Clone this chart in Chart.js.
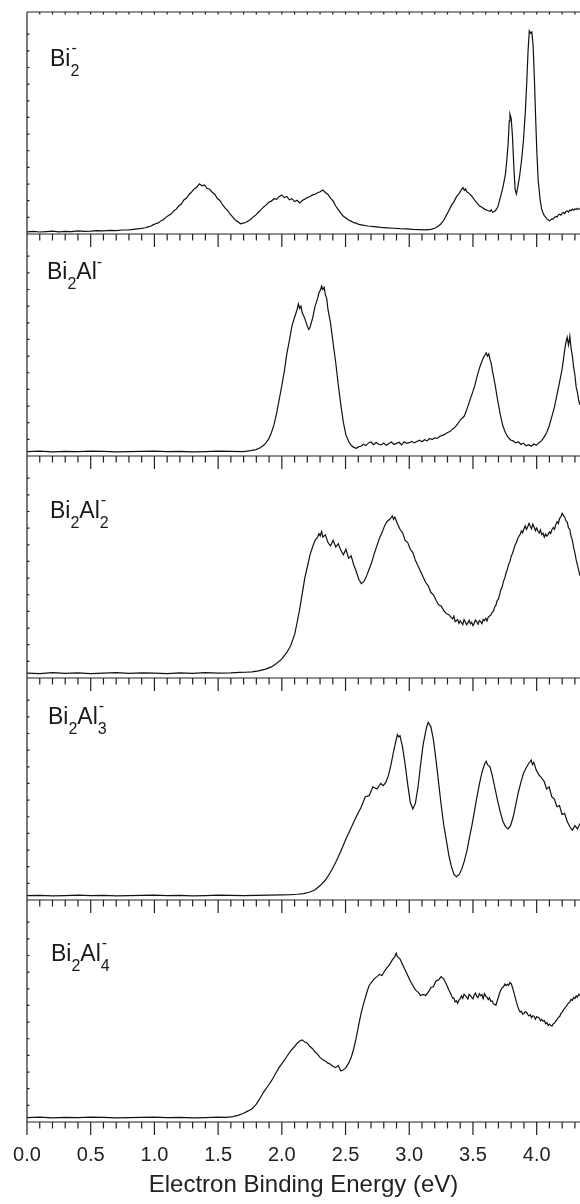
<!DOCTYPE html>
<html>
<head>
<meta charset="utf-8">
<script src="https://cdn.jsdelivr.net/npm/chart.js@4.4.0/dist/chart.umd.min.js"></script>
<style>
  html, body { margin:0; padding:0; background:#fff; }
  #wrap { position:relative; width:580px; height:1204px; }
  .lab { position:absolute; font-family:'Liberation Sans', Arial, sans-serif; font-size:23px; line-height:1; color:#1a1a1a; white-space:nowrap; }
  .lo { position:relative; top:10px; font-size:16px; }
  .hi { position:relative; top:-12px; font-size:16px; }
  .st { display:inline-block; position:relative; width:9px; height:1px; }
  .st .u { position:absolute; left:1px; bottom:10px; font-size:16px; line-height:1; }
  .st .d { position:absolute; left:0; bottom:-13px; font-size:16px; line-height:1; }
</style>
</head>
<body>
<div id="wrap">
  <canvas id="spectra" width="580" height="1204"></canvas>
  <div class="lab" style="left:50px;top:47px">Bi<span class="st"><span class="u">-</span><span class="d">2</span></span></div>
  <div class="lab" style="left:47px;top:260px">Bi<span class="lo">2</span>Al<span class="hi">-</span></div>
  <div class="lab" style="left:50px;top:499px">Bi<span class="lo">2</span>Al<span class="st"><span class="u">-</span><span class="d">2</span></span></div>
  <div class="lab" style="left:48px;top:705px">Bi<span class="lo">2</span>Al<span class="st"><span class="u">-</span><span class="d">3</span></span></div>
  <div class="lab" style="left:51px;top:942px">Bi<span class="lo">2</span>Al<span class="st"><span class="u">-</span><span class="d">4</span></span></div>
</div>
<script>
// photoelectron spectra, intensity in arb. units (0-100 per panel)
const eBi2 = [
  0.00,0.05,0.10,0.15,0.20,0.25,0.30,0.35,0.40,0.45,0.50,0.55,0.60,0.65,0.70,0.75,0.80,0.85,0.90,
  0.929,0.949,0.969,0.989,1.009,1.030,1.050,1.070,1.090,1.110,1.131,1.151,1.171,1.191,1.211,1.231,1.252,1.272,1.292,1.312,
  1.332,1.353,1.373,1.393,1.413,1.433,1.454,1.474,1.494,1.514,1.534,1.554,1.575,1.595,1.615,1.635,1.655,1.676,1.696,1.716,
  1.736,1.756,1.777,1.797,1.817,1.837,1.857,1.877,1.898,1.918,1.938,1.958,1.978,1.999,2.019,2.039,2.059,2.079,2.100,2.120,
  2.140,2.160,2.180,2.200,2.221,2.241,2.261,2.281,2.301,2.322,2.342,2.362,2.382,2.402,2.423,2.443,2.463,2.483,2.503,2.524,
  2.544,2.564,2.584,2.604,2.624,
  2.675,2.725,2.776,2.826,2.877,2.927,2.978,3.028,3.079,3.129,3.170,3.200,
  3.230,3.250,3.270,3.291,3.311,3.331,3.351,3.371,3.392,3.412,
  3.422,3.432,3.442,3.452,3.472,3.493,3.513,3.533,3.553,3.573,3.593,3.614,3.634,3.644,3.654,3.674,3.694,3.715,3.735,3.755,3.765,3.775,3.785,
  3.790,3.800,3.810,3.821,3.831,3.841,3.851,3.866,3.881,3.896,3.911,3.922,3.932,3.942,3.952,3.962,3.972,3.982,3.992,4.002,4.012,4.028,
  4.04,4.05,4.06,4.07,4.08,4.09,4.10,4.11,4.12,4.13,
  4.14,4.15,4.16,4.17,4.18,4.19,4.20,4.21,4.22,4.23,
  4.24,4.25,4.26,4.27,4.28,4.29,4.30,4.31,4.32,4.33,4.34];
const iBi2 = [
  1.0,1.2,0.9,1.1,1.3,1.0,1.2,1.1,1.4,1.2,1.3,1.5,1.4,1.6,1.5,1.8,1.9,2.2,2.5,
  2.8,3.2,3.5,4.1,4.6,5.0,5.9,6.4,7.5,8.3,9.0,10.4,11.2,12.6,13.5,15.3,16.2,17.8,18.9,20.3,
  21.0,22.6,21.7,22.1,20.6,20.2,18.8,17.9,16.0,15.1,13.2,11.8,10.5,8.9,7.6,6.3,5.5,4.6,4.9,5.2,
  5.9,6.6,7.8,8.6,9.9,11.0,12.2,13.1,14.3,14.8,15.9,15.6,16.8,17.6,16.4,16.9,15.4,15.9,14.6,15.2,
  14.0,15.1,15.7,16.4,16.9,17.6,17.9,18.6,19.0,19.8,18.7,17.8,16.2,14.9,12.6,11.0,9.4,8.0,7.2,6.3,
  5.8,5.1,4.9,4.3,4.1,
  3.6,3.3,3.0,2.8,2.6,2.4,2.3,2.1,2.0,1.9,2.1,2.6,
  3.6,4.6,6.2,8.4,10.6,12.9,14.6,16.8,18.3,20.2,
  20.9,19.6,20.3,19.0,18.2,16.9,15.2,13.9,12.6,11.9,11.1,10.6,10.2,10.9,9.8,10.4,12.0,16.5,21.0,27.0,33.0,40.0,51.0,
  54.0,52.0,44.0,30.0,20.0,18.0,21.0,26.0,33.0,42.0,55.0,68.0,82.0,91.5,90.5,91.0,85.0,70.0,52.0,36.0,24.0,15.0,
  11.0,9.4,8.3,7.6,6.8,6.4,6.0,6.3,6.9,6.7,
  7.5,7.9,7.7,8.6,8.9,8.5,9.4,9.7,9.2,10.1,
  10.4,9.9,10.8,10.5,11.2,10.7,11.3,11.0,11.6,11.1,11.4];

const eBi2Al = [
  0.0,0.1,0.2,0.3,0.4,0.5,0.6,0.7,0.8,0.9,1.0,1.1,1.2,1.3,1.4,1.5,1.6,1.7,
  1.756,1.797,1.827,1.857,1.877,1.898,1.918,1.938,1.958,1.978,
  1.999,2.019,2.039,2.059,2.079,2.100,2.120,2.130,2.140,2.150,
  2.160,2.180,2.200,2.211,2.221,2.241,2.261,2.281,2.291,2.301,
  2.312,2.322,2.332,2.342,2.352,2.362,2.382,2.402,2.423,2.443,
  2.463,2.483,2.503,2.524,2.544,2.564,2.584,2.604,
  2.62,2.64,2.66,2.68,2.70,2.72,2.74,2.76,2.78,2.80,
  2.82,2.84,2.86,2.88,2.90,2.92,2.94,2.96,2.98,3.00,
  3.02,3.04,3.06,3.08,3.10,3.12,3.14,3.16,3.18,3.20,
  3.22,3.24,3.26,3.28,3.30,3.32,3.34,3.36,3.38,3.40,
  3.432,3.452,3.472,3.493,3.513,3.533,3.553,3.573,
  3.583,3.594,3.604,3.614,3.624,3.634,3.644,3.654,
  3.674,3.694,3.715,3.735,3.755,3.775,3.795,3.816,3.836,3.856,3.876,3.896,3.917,3.937,
  3.957,3.977,3.997,4.017,4.038,4.058,4.078,4.098,4.118,4.139,4.159,4.179,4.199,
  4.209,4.219,4.229,4.239,4.250,4.260,4.270,4.280,4.290,4.300,4.310,4.320,4.330,4.340];
const iBi2Al = [
  2.0,2.2,1.9,2.1,2.0,2.2,2.1,1.9,2.0,2.1,2.2,2.0,2.1,1.9,2.0,2.2,2.1,2.0,
  2.4,2.9,3.6,4.8,6.0,7.8,10.5,14.0,19.0,25.0,
  31.5,38.0,46.0,52.0,58.5,62.5,66.0,68.5,66.5,67.5,
  64.5,62.0,58.5,57.0,58.0,62.0,67.5,71.0,73.5,74.5,
  76.5,75.0,76.0,72.5,71.0,66.0,60.0,51.0,42.0,32.0,
  23.0,15.0,9.5,6.5,4.8,3.9,3.5,4.2,
  4.4,5.3,4.7,5.9,6.3,5.1,6.1,5.3,5.0,5.8,
  4.8,5.6,6.3,5.2,5.7,6.2,5.0,6.4,5.7,6.0,
  6.6,5.9,6.5,7.1,6.4,7.3,6.8,7.9,7.4,8.2,
  7.9,8.9,9.3,9.8,10.6,11.0,12.2,13.0,14.5,16.2,
  18.0,21.0,24.5,28.0,31.5,36.0,40.0,43.0,
  44.5,45.5,46.5,45.0,46.0,43.5,41.5,38.0,
  32.0,25.0,18.5,13.5,10.5,8.5,7.2,6.8,5.9,6.4,5.2,5.8,4.6,5.1,
  4.4,5.4,4.8,6.0,6.8,8.5,10.5,13.5,17.5,22.0,27.5,33.0,39.0,
  43.0,47.5,51.0,53.5,50.0,54.0,48.5,45.0,40.0,36.5,31.0,28.5,25.0,23.0];

const eBi2Al2 = [
  0.0,0.1,0.2,0.3,0.4,0.5,0.6,0.7,0.8,0.9,1.0,1.1,1.2,1.3,1.4,1.5,1.6,
  1.666,1.716,1.766,1.817,1.867,1.918,1.958,1.999,2.039,2.069,2.100,
  2.120,2.140,2.160,2.180,2.200,2.221,2.241,2.261,2.281,2.291,
  2.301,2.312,2.322,2.342,2.362,2.382,2.402,2.423,2.443,2.463,
  2.483,2.503,2.524,2.544,2.564,2.584,2.604,2.624,2.645,2.665,
  2.685,2.705,2.725,2.746,2.766,2.786,2.806,2.826,2.847,2.867,
  2.877,2.887,2.907,2.927,2.947,2.968,2.988,3.008,3.028,3.048,
  3.069,3.089,3.109,3.129,3.149,3.170,3.190,3.210,3.230,3.250,
  3.270,3.291,3.311,
  3.33,3.34,3.35,3.36,3.37,3.38,3.39,3.40,3.41,3.42,
  3.43,3.44,3.45,3.46,3.47,3.48,3.49,3.50,3.51,3.52,
  3.53,3.54,3.55,3.56,3.57,3.58,3.59,3.60,3.61,3.62,
  3.63,3.64,3.65,3.66,3.67,3.68,3.69,3.70,3.71,3.72,
  3.73,3.74,3.75,3.76,3.77,3.78,3.79,3.80,3.81,3.82,
  3.83,3.84,3.85,3.86,3.87,3.88,3.89,3.90,3.91,3.92,
  3.93,3.94,3.95,3.96,3.97,3.98,3.99,4.00,4.01,4.02,
  4.03,4.04,4.05,4.06,4.07,4.08,4.09,4.10,4.11,4.12,
  4.13,4.14,4.15,4.16,4.17,4.18,4.19,4.20,4.21,4.22,
  4.23,4.24,4.25,4.26,4.27,4.28,4.29,4.30,4.31,4.32,
  4.33,4.34];
const iBi2Al2 = [
  2.2,2.0,2.4,2.1,2.3,2.0,2.2,2.4,2.1,2.3,2.2,2.0,2.3,2.1,2.4,2.2,2.3,
  2.5,2.6,2.8,3.2,3.9,5.0,6.5,8.5,11.5,14.5,19.5,
  25.0,31.0,38.0,45.0,50.0,55.5,59.0,62.0,63.5,65.0,
  64.0,66.0,63.5,64.5,61.0,59.5,62.0,59.0,60.5,57.5,
  55.5,58.0,54.0,55.0,51.0,48.0,44.5,42.5,43.5,46.0,
  49.0,52.0,56.0,59.5,63.0,65.5,68.5,70.5,71.5,73.0,
  71.5,72.5,69.5,67.0,65.5,62.0,61.0,58.0,56.5,53.0,
  50.5,48.0,45.5,43.0,41.5,38.5,37.5,35.0,33.0,32.5,
  30.5,29.0,28.5,
  27.2,26.6,27.9,25.4,25.9,26.3,24.6,25.8,24.9,24.1,
  26.3,25.2,24.0,24.8,26.0,24.4,25.1,23.6,24.7,26.1,
  25.3,24.2,25.9,25.4,24.5,26.4,25.8,26.9,25.7,27.4,
  27.9,28.3,29.6,30.1,31.9,32.8,34.9,35.6,37.8,39.9,
  41.2,43.6,45.1,47.4,48.9,51.2,52.4,54.9,56.1,57.9,
  59.8,60.9,62.6,63.8,64.6,66.3,65.4,67.2,68.5,66.9,
  68.1,69.7,68.4,67.2,69.3,68.0,66.4,67.6,66.1,65.3,
  66.7,64.6,65.2,63.4,64.8,63.9,64.7,65.8,65.1,66.9,
  67.8,67.0,69.1,70.4,69.6,71.9,72.6,74.2,73.1,72.5,
  70.8,70.1,67.6,66.9,63.8,62.1,58.7,56.4,53.2,51.0,
  48.4,46.0];

const eBi2Al3 = [
  0.0,0.1,0.2,0.3,0.4,0.5,0.6,0.7,0.8,0.9,1.0,1.1,1.2,1.3,1.4,1.5,1.6,1.7,1.8,1.9,2.0,
  2.069,2.120,2.170,2.221,2.261,2.301,2.342,2.382,2.423,2.463,
  2.503,2.544,2.584,2.624,2.655,2.685,2.715,2.746,2.776,2.796,
  2.816,2.836,2.857,2.877,2.897,2.907,2.917,2.927,2.947,2.968,
  2.988,3.008,3.028,3.048,3.069,3.089,3.109,3.129,3.139,3.149,
  3.159,3.170,3.190,3.210,3.230,3.250,3.270,3.291,3.311,3.331,
  3.351,3.371,3.392,3.412,3.432,3.452,3.472,3.493,3.513,3.533,
  3.553,3.573,3.593,3.604,3.614,3.634,3.654,3.674,3.694,3.715,
  3.735,3.755,3.775,3.795,3.816,3.836,3.856,3.876,3.896,3.917,
  3.937,3.957,3.967,3.977,3.997,4.017,4.038,4.058,4.078,4.098,
  4.118,4.139,4.159,4.179,4.199,4.219,4.239,4.260,4.280,4.300,
  4.320,4.340];
const iBi2Al3 = [
  2.0,2.1,1.9,2.0,2.2,2.0,2.1,1.9,2.0,2.1,2.2,2.0,2.1,1.9,2.0,2.2,2.1,2.0,2.1,2.2,2.3,
  2.4,2.6,2.9,3.6,4.6,6.5,9.0,12.5,17.0,22.0,
  27.5,32.5,37.5,42.0,46.5,47.0,51.0,50.0,52.5,51.5,
  53.0,56.0,61.0,67.0,72.0,74.5,73.5,74.0,69.0,61.0,
  52.0,44.0,41.0,43.5,51.0,61.0,70.0,76.0,78.5,80.0,
  79.0,78.0,72.0,63.0,53.0,43.0,34.0,27.0,20.0,15.0,
  11.5,10.5,11.5,14.0,17.5,22.0,28.0,34.0,40.5,47.0,
  53.0,58.0,61.5,62.5,61.0,60.0,55.5,50.0,44.5,39.5,
  35.5,33.0,32.0,33.5,37.5,43.0,48.5,53.0,57.0,59.5,
  61.5,63.0,61.0,62.0,58.5,56.5,55.0,53.5,50.0,51.0,
  46.5,45.5,42.0,42.5,38.5,39.0,35.5,33.0,31.5,33.5,
  32.0,34.5];

const eBi2Al4 = [
  0.0,0.1,0.2,0.3,0.4,0.5,0.6,0.7,0.8,0.9,1.0,1.1,1.2,1.3,1.4,1.5,
  1.565,1.615,1.655,1.696,1.736,1.766,1.797,1.827,1.857,1.888,
  1.918,1.948,1.978,2.009,2.039,2.069,2.100,2.120,2.140,2.160,
  2.180,2.200,2.221,2.241,2.261,2.281,2.301,2.322,2.342,2.362,
  2.382,2.402,2.423,2.443,2.463,2.483,2.503,2.524,2.544,2.564,
  2.584,2.604,2.624,2.645,2.665,2.685,2.705,2.725,2.746,2.766,
  2.786,2.806,2.826,2.847,2.867,2.887,2.897,2.907,2.927,2.947,
  2.968,2.988,3.008,3.028,3.048,3.069,3.089,3.109,3.129,3.149,
  3.170,3.190,3.210,3.230,3.250,3.270,3.291,3.311,
  3.33,3.34,3.35,3.36,3.37,3.38,3.39,3.40,3.41,3.42,
  3.43,3.44,3.45,3.46,3.47,3.48,3.49,3.50,3.51,3.52,
  3.53,3.54,3.55,3.56,3.57,3.58,3.59,3.60,3.61,3.62,
  3.63,3.64,3.65,3.66,3.67,3.68,3.69,3.70,3.71,3.72,
  3.73,3.74,3.75,3.76,3.77,3.78,3.79,3.80,3.81,3.82,
  3.83,3.84,3.85,3.86,3.87,3.88,3.89,3.90,3.91,3.92,
  3.93,3.94,3.95,3.96,3.97,3.98,3.99,4.00,4.01,4.02,
  4.03,4.04,4.05,4.06,4.07,4.08,4.09,4.10,4.11,4.12,
  4.13,4.14,4.15,4.16,4.17,4.18,4.19,4.20,4.21,4.22,
  4.23,4.24,4.25,4.26,4.27,4.28,4.29,4.30,4.31,4.32,
  4.33,4.34];
const iBi2Al4 = [
  2.0,2.2,1.9,2.1,2.0,2.2,2.1,1.9,2.0,2.1,2.2,2.0,2.1,1.9,2.0,2.2,
  2.1,2.4,3.0,3.8,5.0,6.0,7.8,10.5,13.5,16.0,
  18.5,21.5,24.5,27.0,29.5,32.0,34.0,35.5,36.5,37.0,
  36.0,35.5,34.0,33.0,31.5,30.5,29.0,28.0,27.5,26.5,
  26.0,25.0,24.5,25.5,23.0,23.5,24.5,26.5,29.0,33.0,
  38.0,44.0,49.5,54.0,58.0,61.5,63.0,64.5,65.5,66.5,
  66.0,68.0,69.5,71.0,73.0,74.5,76.0,74.5,73.5,71.0,
  68.5,66.0,63.5,61.5,59.5,58.5,57.0,57.5,57.0,58.5,
  60.5,61.0,63.5,64.0,65.5,64.5,62.0,59.5,
  57.2,55.8,55.9,54.1,54.6,53.5,54.9,55.6,56.8,55.7,
  57.6,56.9,56.2,55.4,57.5,57.0,56.1,55.5,57.3,58.1,
  56.6,56.0,57.7,56.9,57.4,55.6,57.8,56.7,56.2,55.1,
  55.9,54.3,54.6,53.2,53.0,52.6,54.5,56.3,58.2,59.6,
  60.6,60.9,62.1,61.4,62.0,61.6,62.8,62.3,60.7,58.6,
  56.5,54.2,52.3,50.7,49.6,49.9,48.6,48.9,49.7,49.4,
  48.5,47.8,48.3,47.0,47.9,47.6,46.3,47.5,47.1,46.9,
  45.6,46.2,45.4,45.7,44.3,44.8,43.5,44.1,43.6,43.2,
  44.2,44.6,45.5,46.1,47.2,47.4,48.9,49.4,50.5,51.2,
  52.0,52.8,53.6,54.0,55.2,54.8,56.1,55.6,56.8,56.2,
  57.5,56.9];

const panelIds = ['p1', 'p2', 'p3', 'p4', 'p5'];
const energies = [eBi2, eBi2Al, eBi2Al2, eBi2Al3, eBi2Al4];
const intensities = [iBi2, iBi2Al, iBi2Al2, iBi2Al3, iBi2Al4];
const xMin = 0, xMax = 4.34, xStep = 0.1;

const font = "'Liberation Sans', Arial, sans-serif";
const isMajor = v => Math.abs(v * 2 - Math.round(v * 2)) < 1e-6;

const panelFrame = {
  id: 'panelFrame',
  afterDatasetsDraw(chart) {
    const ctx = chart.ctx;
    const area = chart.chartArea;
    const xs = chart.scales.x;
    ctx.save();
    ctx.strokeStyle = '#222';
    ctx.lineWidth = 1.2;
    ctx.beginPath();
    ctx.moveTo(area.left, area.top); ctx.lineTo(area.right, area.top);
    ctx.moveTo(area.left, area.top); ctx.lineTo(area.left, area.bottom);
    xs.ticks.forEach(t => {
      const px = xs.getPixelForValue(t.value);
      ctx.moveTo(px, area.top); ctx.lineTo(px, area.top + 2.5);
    });
    panelIds.forEach(id => {
      const ys = chart.scales[id];
      ctx.moveTo(area.left, ys.bottom); ctx.lineTo(area.right, ys.bottom);
      xs.ticks.forEach(t => {
        const px = xs.getPixelForValue(t.value);
        ctx.moveTo(px, ys.bottom);
        ctx.lineTo(px, ys.bottom + (isMajor(t.value) ? 13 : 6.5));
      });
      ys.ticks.forEach(t => {
        const py = ys.getPixelForValue(t.value);
        ctx.moveTo(area.left, py); ctx.lineTo(area.left + 2.5, py);
      });
    });
    ctx.stroke();
    ctx.restore();
  }
};

const scales = {
  x: {
    type: 'linear', position: 'bottom', min: xMin, max: xMax,
    border: { display: false },
    grid: { display: false, drawTicks: false },
    ticks: {
      stepSize: xStep, autoSkip: false, maxRotation: 0, padding: 21, includeBounds: false,
      color: '#222', font: { family: font, size: 20 },
      callback: v => isMajor(v) ? v.toFixed(1) : ''
    },
    title: {
      display: true, text: 'Electron Binding Energy (eV)', color: '#222',
      font: { family: font, size: 24 }, padding: { top: 4, bottom: 0 }
    },
    afterFit(scale) {
      // keep plot flush with the left axis and the right edge
      scale.paddingLeft = 0;
      scale.paddingRight = 0;
      scale.height = 78;
    }
  }
};
panelIds.forEach((id, i) => {
  scales[id] = {
    type: 'linear', position: 'left', stack: 'panels', stackWeight: 1,
    weight: panelIds.length - i,
    min: 0, max: 100,
    border: { display: false },
    grid: { display: false, drawTicks: false },
    ticks: { display: false, stepSize: 7.5 }
  };
});

const datasets = panelIds.map((id, i) => ({
  data: energies[i].map((e, k) => ({ x: e, y: intensities[i][k] })),
  yAxisID: id,
  borderColor: '#111',
  borderWidth: 1.2,
  pointRadius: 0,
  tension: 0,
  fill: false
}));

new Chart(document.getElementById('spectra'), {
  type: 'line',
  data: { datasets },
  options: {
    responsive: false,
    animation: false,
    devicePixelRatio: 1,
    layout: { padding: { top: 12, left: 27, right: 0, bottom: 4 } },
    plugins: { legend: { display: false }, tooltip: { enabled: false } },
    scales
  },
  plugins: [panelFrame]
});
</script>
</body>
</html>
